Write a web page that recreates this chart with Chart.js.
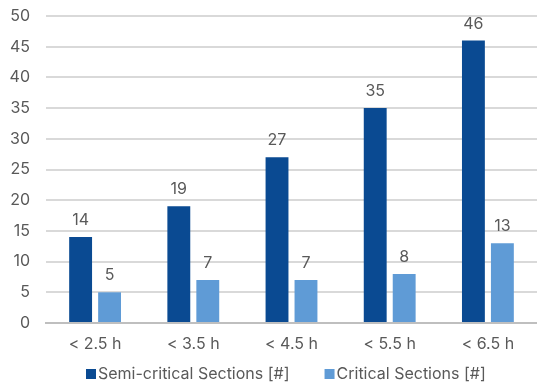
<!DOCTYPE html>
<html>
<head>
<meta charset="utf-8">
<script src="https://cdn.jsdelivr.net/npm/chart.js@4/dist/chart.umd.min.js"></script>
<style>
  html, body { margin: 0; padding: 0; background: #ffffff; }
  #wrap { width: 537px; height: 383px; }
</style>
</head>
<body>
<div id="wrap"><canvas id="c" width="537" height="383"></canvas></div>
<script>
const categories = ['< 2.5 h', '< 3.5 h', '< 4.5 h', '< 5.5 h', '< 6.5 h'];
const semiCritical = [14, 19, 27, 35, 46];
const critical = [5, 7, 7, 8, 13];
const seriesNames = ['Semi-critical Sections [#]', 'Critical Sections [#]'];
const seriesColors = ['#0a4a92', '#5f9bd6'];

const FONT = 'Inter, "Noto Sans", sans-serif';
const FONT_SIZE = 16;
const TEXT = '#595959';
const PLOT_TOP = 16;

// Pin the top of the plot area so the 50 gridline sits near the canvas edge
const plotTop = {
  id: 'plotTop',
  afterLayout(chart) {
    const area = chart.chartArea;
    const y = chart.scales.y;
    area.top = PLOT_TOP;
    area.height = area.bottom - PLOT_TOP;
    y.top = PLOT_TOP;
    y.height = y.bottom - PLOT_TOP;
    y.configure();
  }
};

// Value labels written just above each bar
const valueLabels = {
  id: 'valueLabels',
  afterDatasetsDraw(chart) {
    const ctx = chart.ctx;
    ctx.save();
    ctx.font = FONT_SIZE + 'px ' + FONT;
    ctx.fillStyle = TEXT;
    ctx.textAlign = 'center';
    ctx.textBaseline = 'alphabetic';
    chart.data.datasets.forEach((ds, i) => {
      const meta = chart.getDatasetMeta(i);
      meta.data.forEach((bar, j) => {
        ctx.fillText(String(ds.data[j]), bar.x, bar.y - 12);
      });
    });
    ctx.restore();
  }
};

// Bottom legend: square swatch, tight gap, wide spacing between entries
const bottomLegend = {
  id: 'bottomLegend',
  afterDraw(chart) {
    const ctx = chart.ctx;
    const box = 10, gap = 2, spacing = 35;
    ctx.save();
    ctx.font = FONT_SIZE + 'px ' + FONT;
    const items = chart.data.datasets.map(ds => ({
      text: ds.label, color: ds.backgroundColor,
      w: box + gap + ctx.measureText(ds.label).width
    }));
    let x = 86;
    const cy = 374;
    ctx.textBaseline = 'middle';
    ctx.textAlign = 'left';
    items.forEach(it => {
      ctx.fillStyle = it.color;
      ctx.fillRect(x, cy - box / 2, box, box);
      ctx.fillStyle = TEXT;
      ctx.fillText(it.text, x + box + gap, cy);
      x += it.w + spacing;
    });
    ctx.restore();
  }
};

new Chart(document.getElementById('c'), {
  type: 'bar',
  data: {
    labels: categories,
    datasets: [
      { label: seriesNames[0], data: semiCritical, backgroundColor: seriesColors[0],
        categoryPercentage: 0.59, barPercentage: 0.79 },
      { label: seriesNames[1], data: critical, backgroundColor: seriesColors[1],
        categoryPercentage: 0.59, barPercentage: 0.79 }
    ]
  },
  options: {
    responsive: false,
    animation: false,
    layout: { autoPadding: false, padding: { top: 0, right: 0, left: 0, bottom: 30 } },
    plugins: {
      legend: { display: false },
      tooltip: { enabled: false }
    },
    scales: {
      x: {
        grid: { display: false, drawTicks: false },
        border: { color: '#bfbfbf', width: 2 },
        ticks: { font: { family: FONT, size: FONT_SIZE }, color: TEXT, padding: 12 },
        afterFit(scale) { scale.height = 30; }
      },
      y: {
        min: 0, max: 50,
        grid: { color: '#d9d9d9', lineWidth: 2, drawTicks: false },
        border: { display: false },
        ticks: { stepSize: 5, font: { family: FONT, size: FONT_SIZE }, color: TEXT, padding: 16 },
        afterFit(scale) { scale.width = 46; }
      }
    }
  },
  plugins: [plotTop, valueLabels, bottomLegend]
});
</script>
</body>
</html>
